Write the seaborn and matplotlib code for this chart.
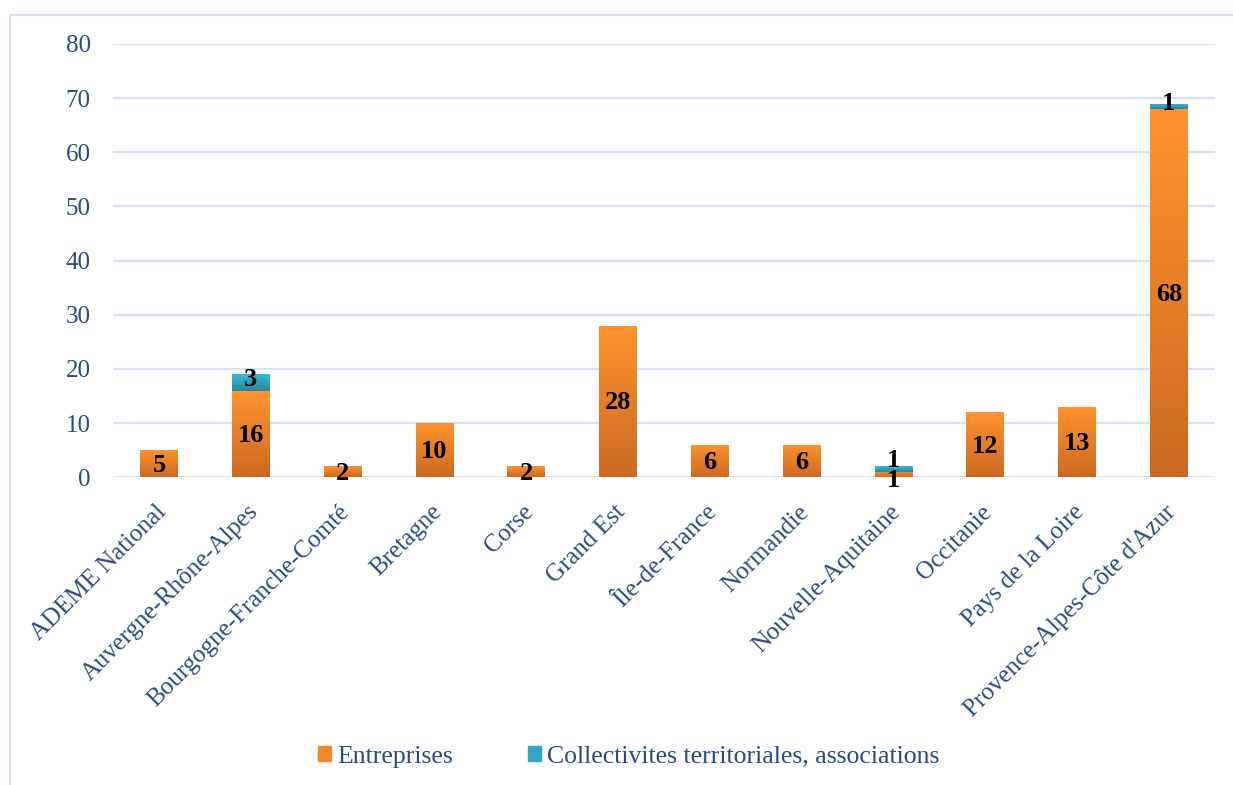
#Graphique en barres empilees par region (Entreprises / Collectivites)
import numpy as np
import pandas as pd
import matplotlib
matplotlib.use("Agg")
import matplotlib.pyplot as plt
import matplotlib.transforms as mtransforms
import seaborn as sns
from matplotlib.colors import LinearSegmentedColormap
from matplotlib.patches import Rectangle

regions = ["ADEME National", "Auvergne-Rhône-Alpes", "Bourgogne-Franche-Comté", "Bretagne",
           "Corse", "Grand Est", "Île-de-France", "Normandie", "Nouvelle-Aquitaine",
           "Occitanie", "Pays de la Loire", "Provence-Alpes-Côte d'Azur"]
entreprises = [5, 16, 2, 10, 2, 28, 6, 6, 1, 12, 13, 68]
collectivites = [0, 3, 0, 0, 0, 0, 0, 0, 1, 0, 0, 1]
series_names = ["Entreprises", "Collectivites territoriales, associations"]

df = pd.DataFrame({"Region": regions, "Entreprises": entreprises, "Collectivites": collectivites})
df["Total"] = df["Entreprises"] + df["Collectivites"]

text_color = "#2B4A80"
grid_color = "#D9E2F2"
orange_cmap = LinearSegmentedColormap.from_list("orange", ["#CC6A22", "#FF932E"])
blue_cmap = LinearSegmentedColormap.from_list("blue", ["#23869E", "#3CB9DA"])

sns.set_theme(style="white")
plt.rcParams["font.family"] = ["Liberation Serif", "DejaVu Serif"]

fig = plt.figure(figsize=(12.33, 7.85), dpi=100)
ax = fig.add_axes([0.0917, 0.392, 0.8935, 0.552])

# barres totales (partie bleue) puis entreprises par dessus
sns.barplot(data=df, x="Region", y="Total", color="#3CB9DA", width=0.41, saturation=1, ax=ax)
sns.barplot(data=df, x="Region", y="Entreprises", color="#FF932E", width=0.41, saturation=1, ax=ax)

grad = np.linspace(0, 1, 256).reshape(-1, 1)
tot_bars = ax.containers[0]
ent_bars = ax.containers[1]
for i in range(len(regions)):
    e = entreprises[i]
    c = collectivites[i]
    pt = tot_bars[i]
    pe = ent_bars[i]
    x0 = pe.get_x()
    w = pe.get_width()
    if c > 0:
        im = ax.imshow(grad, extent=[x0, x0 + w, e, e + c], origin="lower", aspect="auto",
                       cmap=blue_cmap, zorder=2)
        im.set_clip_path(pt)
    if e > 0:
        im = ax.imshow(grad, extent=[x0, x0 + w, 0, e], origin="lower", aspect="auto",
                       cmap=orange_cmap, zorder=2)
        im.set_clip_path(pe)
    for p in (pt, pe):
        p.set_facecolor("none")
        p.set_edgecolor("none")

# etiquettes de valeurs
for i in range(len(regions)):
    e = entreprises[i]
    c = collectivites[i]
    if e > 0:
        dy = -4 if e < 2 else -1
        ax.annotate(str(e), (i, e / 2), xytext=(0, dy), textcoords="offset points",
                    ha="center", va="center", fontsize=19, fontweight="bold", color="black", zorder=5)
    if c > 0:
        dy = 6 if e < 2 else 2
        ax.annotate(str(c), (i, e + c / 2), xytext=(0, dy), textcoords="offset points",
                    ha="center", va="center", fontsize=19, fontweight="bold", color="black", zorder=5)

ax.set_xlim(-0.5, len(regions) - 0.5)
ax.set_ylim(0, 80)
ax.set_yticks(range(0, 81, 10))
ax.set_axisbelow(True)
ax.yaxis.grid(True, color=grid_color, linewidth=1.6)
ax.xaxis.grid(False)
for s in ax.spines.values():
    s.set_visible(False)
ax.set_xlabel("")
ax.set_ylabel("")
ax.tick_params(axis="y", length=0, pad=16, labelsize=18, labelcolor=text_color)
ax.tick_params(axis="x", length=0, pad=17, labelsize=18, labelcolor=text_color)
ax.set_xticks(range(len(regions)))
ax.set_xticklabels(regions, rotation=45, ha="right", rotation_mode="anchor")
shift = mtransforms.ScaledTranslation(-4 / 100, 0, fig.dpi_scale_trans)
for lab in ax.get_xticklabels():
    lab.set_transform(lab.get_transform() + shift)

handles = [Rectangle((0, 0), 1, 1, color="#F2862A"), Rectangle((0, 0), 1, 1, color="#31A6C4")]
fig.legend(handles, series_names, loc="center", bbox_to_anchor=(0.51, 0.036), ncol=2,
           frameon=False, fontsize=18.5, handlelength=0.5, handleheight=0.5, handletextpad=0.25,
           columnspacing=2.9, labelcolor=text_color)

fig.patches.append(Rectangle((0.008, -0.05), 1.1, 0.981 + 0.05, transform=fig.transFigure,
                             fill=False, edgecolor="#D6E1F2", linewidth=1.5))

fig.savefig("out.png", dpi=100)
